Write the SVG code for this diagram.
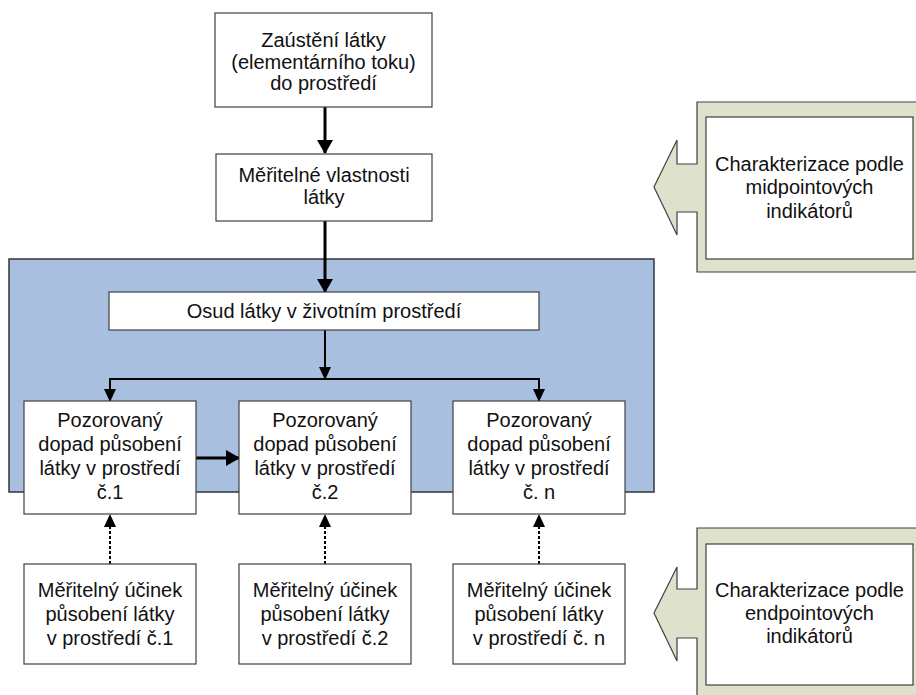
<svg xmlns="http://www.w3.org/2000/svg" width="916" height="695" viewBox="0 0 916 695">
<defs>
<style>
.box{fill:#fff;stroke:#404040;stroke-width:1.2}
.t{font-family:"Liberation Sans",Arial,sans-serif;font-size:20px;fill:#111;text-anchor:middle}
.thick{stroke:#000;stroke-width:3;fill:none}
.thin{stroke:#000;stroke-width:2;fill:none}
.dot{stroke:#000;stroke-width:2;fill:none;stroke-dasharray:3 2}
.call{fill:#DEE2CC;stroke:#404040;stroke-width:1.2}
</style>
<marker id="ah" markerWidth="14" markerHeight="16" refX="13" refY="8" orient="auto" markerUnits="userSpaceOnUse">
<path d="M0,0 L14,8 L0,16 Z" fill="#000"/>
</marker>
<marker id="ahs" markerWidth="13" markerHeight="12" refX="12" refY="6" orient="auto" markerUnits="userSpaceOnUse">
<path d="M0,0 L13,6 L0,12 Z" fill="#000"/>
</marker>
</defs>
<rect width="916" height="695" fill="#fff"/>

<g id="env">
<rect x="9" y="259" width="645" height="233" fill="#A9BFE0" stroke="#303540" stroke-width="1.5"/>
</g>

<g id="callout-mid">
<path class="call" d="M697,102 L920,102 L920,272 L697,272 L697,212 L677,212 L677,235 L654,187 L677,140 L677,164 L697,164 Z"/>
<rect class="box" x="706" y="117" width="207" height="142"/>
<text class="t" x="809.5" y="171">Charakterizace podle</text>
<text class="t" x="809.5" y="194">midpointových</text>
<text class="t" x="809.5" y="218">indikátorů</text>
</g>

<g id="callout-end">
<path class="call" d="M697,528 L920,528 L920,705 L697,705 L697,638 L677,638 L677,661 L654,613 L677,567 L677,589 L697,589 Z"/>
<rect class="box" x="706" y="544" width="207" height="141"/>
<text class="t" x="809.5" y="597">Charakterizace podle</text>
<text class="t" x="809.5" y="620">endpointových</text>
<text class="t" x="809.5" y="643">indikátorů</text>
</g>

<g id="connectors">
<line class="thick" x1="325" y1="107" x2="325" y2="153" marker-end="url(#ah)"/>
<line class="thick" x1="325" y1="221" x2="325" y2="292" marker-end="url(#ah)"/>
<line class="thin" x1="325" y1="330" x2="325" y2="379" marker-end="url(#ahs)"/>
<polyline class="thin" points="110,401 110,379 539,379 539,401"/>
<line class="thin" x1="110" y1="379" x2="110" y2="401" marker-end="url(#ahs)"/>
<line class="thin" x1="539" y1="379" x2="539" y2="401" marker-end="url(#ahs)"/>
<line class="thick" x1="196" y1="458" x2="239" y2="458" marker-end="url(#ah)"/>
<line class="dot" x1="110" y1="564" x2="110" y2="515" marker-end="url(#ahs)"/>
<line class="dot" x1="325" y1="564" x2="325" y2="515" marker-end="url(#ahs)"/>
<line class="dot" x1="539" y1="564" x2="539" y2="515" marker-end="url(#ahs)"/>
</g>

<g id="n-zausteni">
<rect class="box" x="215" y="13" width="217" height="94"/>
<text class="t" x="323.5" y="47">Zaústění látky</text>
<text class="t" x="323.5" y="68.5">(elementárního toku)</text>
<text class="t" x="323.5" y="90">do prostředí</text>
</g>

<g id="n-vlastnosti">
<rect class="box" x="216" y="154" width="216" height="67"/>
<text class="t" x="324" y="182">Měřitelné vlastnosti</text>
<text class="t" x="324" y="204">látky</text>
</g>

<g id="n-osud">
<rect class="box" x="109" y="292" width="430" height="38"/>
<text class="t" x="324" y="318">Osud látky v životním prostředí</text>
</g>

<g id="n-dopad1">
<rect class="box" x="24" y="401" width="172" height="113"/>
<text class="t" x="110" y="427">Pozorovaný</text>
<text class="t" x="110" y="451">dopad působení</text>
<text class="t" x="110" y="475">látky v prostředí</text>
<text class="t" x="110" y="499">č.1</text>
</g>

<g id="n-dopad2">
<rect class="box" x="239" y="401" width="172" height="113"/>
<text class="t" x="325" y="427">Pozorovaný</text>
<text class="t" x="325" y="451">dopad působení</text>
<text class="t" x="325" y="475">látky v prostředí</text>
<text class="t" x="325" y="499">č.2</text>
</g>

<g id="n-dopadn">
<rect class="box" x="453" y="401" width="172" height="113"/>
<text class="t" x="539" y="427">Pozorovaný</text>
<text class="t" x="539" y="451">dopad působení</text>
<text class="t" x="539" y="475">látky v prostředí</text>
<text class="t" x="539" y="499">č. n</text>
</g>

<g id="n-ucinek1">
<rect class="box" x="24" y="564" width="172" height="100"/>
<text class="t" x="110" y="597">Měřitelný účinek</text>
<text class="t" x="110" y="621">působení látky</text>
<text class="t" x="110" y="645">v prostředí č.1</text>
</g>

<g id="n-ucinek2">
<rect class="box" x="239" y="564" width="172" height="100"/>
<text class="t" x="325" y="597">Měřitelný účinek</text>
<text class="t" x="325" y="621">působení látky</text>
<text class="t" x="325" y="645">v prostředí č.2</text>
</g>

<g id="n-ucinekn">
<rect class="box" x="453" y="564" width="172" height="100"/>
<text class="t" x="539" y="597">Měřitelný účinek</text>
<text class="t" x="539" y="621">působení látky</text>
<text class="t" x="539" y="645">v prostředí č. n</text>
</g>
</svg>
